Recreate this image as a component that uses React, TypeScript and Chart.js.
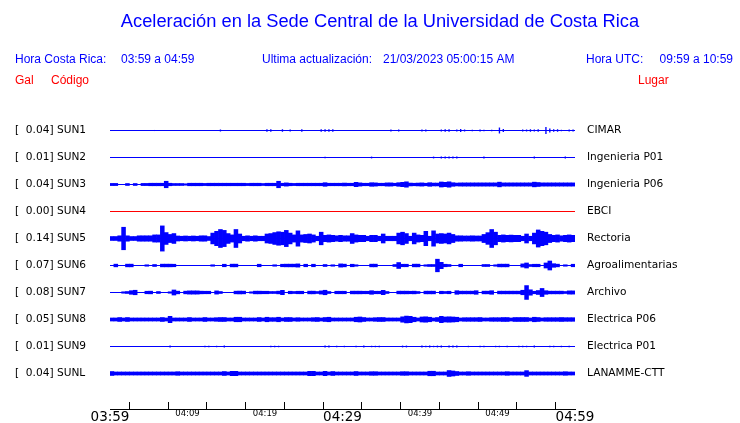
import React, { useEffect, useRef } from "react";
import { Chart, registerables } from "chart.js";

Chart.register(...registerables);

// ---------- data ----------
const TITLE = "Aceleración en la Sede Central de la Universidad de Costa Rica";
const HORA_CR = "03:59 a 04:59";
const UPDATED = "21/03/2023 05:00:15 AM";
const HORA_UTC = "09:59 a 10:59";

const CODES = ["SUN1", "SUN2", "SUN3", "SUN4", "SUN5", "SUN6", "SUN7", "SUN8", "SUN9", "SUNL"];
const PLACES = ["CIMAR", "Ingenieria P01", "Ingenieria P06", "EBCI", "Rectoria", "Agroalimentarias", "Archivo", "Electrica P06", "Electrica P01", "LANAMME-CTT"];
const PEAKS_GAL = [0.04, 0.01, 0.04, 0.0, 0.14, 0.07, 0.08, 0.05, 0.01, 0.04];

// time axis: minutes after 03:59, ticks every 5 minutes
const TICK_LABELS = ["03:59", "", "04:09", "", "04:19", "", "04:29", "", "04:39", "", "04:49", "", "04:59"];
const MAJOR_TICKS = ["03:59", "04:29", "04:59"];

// envelope (half amplitude, mGal) per half-minute bin, 120 bins = 60 min
const SUN1 = [
  0, 0, 0, 0, 0, 0, 0, 0, 0, 0, 0, 6, 0, 0, 0, 0, 0, 0, 0, 0,
  0, 0, 0, 0, 0, 0, 0, 0, 11, 0, 0, 0, 0, 0, 0, 0, 0, 0, 0, 0,
  14, 14, 0, 0, 14, 0, 12, 0, 0, 14, 0, 0, 0, 0, 14, 14, 14, 14, 0, 0,
  0, 0, 0, 0, 6, 0, 0, 0, 0, 0, 0, 0, 11, 0, 11, 0, 0, 0, 0, 0,
  12, 12, 0, 0, 0, 11, 14, 14, 0, 11, 16, 11, 0, 8, 0, 11, 8, 0, 8, 0,
  33, 16, 0, 0, 0, 0, 12, 11, 14, 11, 14, 0, 40, 22, 14, 14, 8, 0, 11, 11,
];
const SUN2 = [
  0, 0, 0, 0, 0, 0, 0, 0, 0, 0, 0, 0, 0, 0, 0, 0, 0, 0, 0, 0,
  0, 0, 0, 0, 0, 0, 0, 0, 0, 0, 0, 0, 0, 0, 0, 0, 0, 0, 0, 0,
  0, 0, 0, 0, 0, 0, 0, 0, 0, 0, 0, 0, 0, 0, 0, 8, 0, 0, 0, 0,
  0, 0, 0, 6, 0, 0, 0, 10, 0, 0, 0, 0, 0, 0, 0, 0, 0, 0, 0, 0,
  0, 0, 0, 10, 0, 10, 12, 10, 10, 10, 0, 0, 0, 0, 0, 0, 10, 0, 0, 0,
  0, 0, 0, 0, 0, 0, 0, 0, 0, 10, 0, 0, 0, 0, 0, 0, 0, 10, 0, 0,
];
const SUN3 = [
  12, 12, 0, 0, 11, 0, 11, 0, 12, 12, 14, 14, 14, 14, 36, 14, 11, 11, 11, 8,
  14, 14, 14, 14, 12, 14, 14, 14, 14, 14, 14, 14, 14, 14, 14, 12, 14, 14, 14, 11,
  14, 14, 14, 36, 14, 18, 14, 12, 14, 14, 14, 14, 14, 14, 14, 20, 14, 14, 14, 14,
  16, 14, 14, 24, 18, 14, 14, 20, 18, 14, 14, 18, 18, 14, 20, 24, 30, 16, 14, 16,
  18, 14, 20, 16, 16, 28, 24, 30, 20, 16, 18, 18, 18, 18, 18, 18, 18, 18, 18, 18,
  26, 18, 18, 18, 18, 18, 18, 18, 18, 26, 22, 18, 18, 18, 18, 18, 18, 18, 18, 18,
];
const SUN4: number[] = []; // sin datos
const SUN5 = [
  22, 22, 30, 125, 30, 22, 22, 30, 30, 30, 30, 40, 40, 140, 66, 45, 55, 28, 25, 28,
  25, 28, 25, 30, 30, 22, 60, 80, 100, 90, 55, 40, 100, 50, 25, 30, 25, 30, 25, 25,
  50, 55, 66, 75, 70, 90, 60, 40, 85, 40, 45, 50, 40, 25, 70, 35, 40, 35, 30, 35,
  30, 30, 55, 40, 35, 35, 25, 35, 35, 25, 50, 25, 25, 25, 60, 70, 55, 25, 60, 40,
  35, 80, 25, 85, 50, 55, 50, 60, 45, 30, 30, 28, 28, 30, 28, 28, 45, 65, 100, 70,
  35, 40, 35, 38, 35, 35, 25, 50, 25, 60, 95, 80, 70, 45, 35, 40, 30, 35, 40, 35,
];
const SUN6 = [
  0, 15, 0, 0, 15, 15, 0, 0, 0, 8, 0, 11, 0, 15, 15, 15, 14, 0, 0, 0,
  0, 0, 0, 0, 0, 0, 8, 0, 0, 14, 0, 15, 15, 0, 0, 0, 0, 0, 14, 0,
  0, 0, 8, 0, 14, 15, 15, 15, 18, 0, 14, 0, 14, 0, 0, 11, 0, 8, 0, 18,
  15, 0, 14, 8, 0, 0, 0, 15, 15, 0, 0, 0, 0, 11, 33, 14, 14, 0, 15, 15,
  0, 8, 11, 11, 70, 35, 14, 11, 0, 0, 14, 0, 0, 0, 0, 0, 11, 11, 0, 8,
  15, 15, 15, 0, 0, 0, 18, 28, 11, 14, 14, 0, 28, 50, 20, 15, 0, 8, 0, 14,
];
const SUN7 = [
  0, 0, 0, 8, 11, 20, 25, 0, 0, 14, 15, 0, 11, 0, 0, 8, 28, 15, 0, 15,
  18, 18, 18, 15, 14, 14, 0, 18, 11, 0, 0, 0, 15, 16, 15, 0, 8, 15, 15, 14,
  14, 11, 11, 15, 24, 0, 14, 11, 14, 14, 0, 15, 15, 11, 18, 25, 11, 0, 14, 14,
  14, 0, 15, 15, 15, 14, 14, 20, 14, 14, 24, 11, 0, 0, 15, 15, 15, 14, 15, 11,
  0, 15, 15, 15, 0, 14, 11, 14, 0, 20, 15, 15, 15, 15, 20, 0, 15, 15, 20, 0,
  15, 15, 15, 15, 15, 15, 25, 77, 30, 14, 22, 45, 20, 15, 15, 15, 15, 11, 18, 18,
];
const SUN8 = [
  17, 17, 22, 17, 22, 17, 17, 17, 17, 17, 17, 17, 17, 22, 17, 35, 17, 17, 17, 17,
  22, 17, 17, 17, 22, 17, 17, 20, 22, 22, 17, 17, 25, 25, 17, 17, 17, 17, 22, 17,
  25, 20, 20, 25, 17, 22, 22, 17, 20, 17, 17, 17, 20, 22, 17, 22, 25, 17, 17, 17,
  17, 17, 17, 25, 28, 22, 17, 17, 20, 22, 22, 17, 17, 17, 17, 30, 38, 35, 25, 17,
  28, 30, 25, 17, 22, 35, 28, 30, 28, 25, 17, 20, 20, 20, 20, 22, 17, 17, 20, 20,
  20, 22, 22, 17, 22, 22, 22, 22, 17, 25, 22, 17, 20, 20, 20, 20, 22, 20, 20, 20,
];
const SUN9 = [
  0, 0, 0, 0, 0, 0, 0, 0, 0, 0, 0, 0, 0, 0, 0, 11, 0, 0, 0, 0,
  0, 0, 0, 0, 8, 8, 0, 8, 0, 11, 0, 0, 0, 0, 0, 0, 0, 0, 0, 0,
  0, 8, 8, 8, 0, 0, 0, 0, 0, 0, 0, 0, 0, 0, 0, 10, 10, 0, 8, 0,
  8, 0, 0, 8, 0, 10, 0, 8, 8, 8, 0, 0, 0, 0, 0, 10, 10, 0, 0, 0,
  10, 8, 10, 8, 10, 10, 0, 10, 10, 10, 0, 0, 8, 0, 0, 8, 8, 0, 0, 8,
  8, 0, 8, 0, 0, 8, 8, 8, 0, 10, 0, 0, 0, 8, 8, 0, 8, 0, 8, 0,
];
const SUNL = [
  22, 17, 17, 17, 17, 17, 17, 17, 17, 17, 17, 17, 17, 17, 17, 17, 17, 20, 17, 17,
  17, 17, 17, 17, 17, 17, 17, 17, 17, 22, 17, 24, 24, 17, 17, 17, 17, 17, 17, 17,
  17, 17, 17, 17, 17, 17, 17, 17, 17, 17, 17, 24, 24, 17, 17, 24, 17, 22, 17, 17,
  17, 17, 17, 22, 17, 17, 17, 20, 20, 17, 17, 17, 17, 17, 17, 20, 20, 17, 17, 17,
  17, 17, 25, 25, 17, 17, 17, 33, 28, 22, 17, 17, 20, 17, 17, 17, 17, 17, 17, 17,
  17, 17, 20, 17, 17, 17, 17, 32, 17, 17, 17, 17, 17, 17, 17, 17, 17, 20, 17, 17,
];
const TRACES = [SUN1, SUN2, SUN3, SUN4, SUN5, SUN6, SUN7, SUN8, SUN9, SUNL];

// ---------- presentation ----------
const BLUE = "#0000ff";
const RED = "#ff0000";
const BIN_MIN = 0.5; // minutes per bin
const SPACING = 0.3; // Gal between trace baselines
const HALF_PX = 0.5 / 90; // half a pixel, in Gal, for crisp baselines
const Y_MIN = -SPACING - HALF_PX;
const Y_MAX = Y_MIN + 3.4;
// relative bar width per trace (isolated spikes drawn thinner)
const BAR_FILL = [0.35, 0.35, 1, 1, 1, 1, 1, 1, 0.35, 1];
const LABEL_FONT = { family: "'DejaVu Sans'", size: 10.6 };

const leftLabel = (k: number) => "[" + PEAKS_GAL[k].toFixed(2).padStart(6, " ") + "] " + CODES[k];
const tickLabel = (v: number) => TICK_LABELS[Math.round(v / 5)] ?? "";

const headerPlugin = {
  id: "header",
  afterDraw(chart: any) {
    const ctx = chart.ctx;
    ctx.save();
    ctx.textBaseline = "middle";
    ctx.fillStyle = BLUE;
    ctx.font = "18.3px 'Liberation Sans'";
    ctx.textAlign = "center";
    ctx.fillText(TITLE, 380, 22);
    ctx.font = "12px 'Liberation Sans'";
    ctx.textAlign = "left";
    ctx.fillText("Hora Costa Rica:", 15, 60);
    ctx.fillText(HORA_CR, 121, 60);
    ctx.fillText("Ultima actualización:", 262, 60);
    ctx.fillText(UPDATED, 383, 60);
    ctx.fillText("Hora UTC:", 586, 60);
    ctx.textAlign = "right";
    ctx.fillText(HORA_UTC, 733, 60);
    ctx.textAlign = "left";
    ctx.fillStyle = RED;
    ctx.fillText("Gal", 15, 81);
    ctx.fillText("Código", 51, 81);
    ctx.fillText("Lugar", 638, 81);
    ctx.restore();
  },
};

export default function App() {
  const ref = useRef<HTMLCanvasElement>(null);

  useEffect(() => {
    if (!ref.current) return;
    const datasets: any[] = [];
    TRACES.forEach((trace, k) => {
      const base = k * SPACING;
      const color = PEAKS_GAL[k] === 0 ? RED : BLUE;
      datasets.push({
        type: "line",
        data: [
          { x: 0, y: base },
          { x: 60, y: base },
        ],
        borderColor: color,
        borderWidth: 1,
        pointRadius: 0,
        yAxisID: "y",
        order: 2,
      });
      const bars = trace
        .map((a, i) => (a > 0 ? { x: (i + 0.5) * BIN_MIN, y: [base - a / 1000, base + a / 1000] } : null))
        .filter(Boolean);
      datasets.push({
        type: "bar",
        data: bars,
        backgroundColor: color,
        borderWidth: 0,
        grouped: false,
        barPercentage: BAR_FILL[k],
        categoryPercentage: 1,
        yAxisID: "y",
        order: 1,
      });
    });

    const noPad = (s: any) => {
      s.paddingTop = 0;
      s.paddingBottom = 0;
    };

    const chart = new Chart(ref.current, {
      type: "bar",
      data: { datasets },
      options: {
        animation: false,
        responsive: false,
        devicePixelRatio: 1,
        events: [],
        layout: { padding: { top: 103, left: 15, right: 0, bottom: 0 } },
        plugins: { legend: { display: false }, tooltip: { enabled: false }, title: { display: false } },
        scales: {
          x: {
            type: "linear",
            min: 0,
            max: 60,
            offset: false,
            grid: { drawOnChartArea: false, drawTicks: true, tickLength: -7, tickColor: "#000", color: "#000", lineWidth: 1 },
            border: { display: true, color: "#000", width: 1 },
            ticks: {
              stepSize: 5,
              autoSkip: false,
              maxRotation: 0,
              padding: 7,
              color: "#000",
              font: (c: any) => {
                const lbl = c && c.tick ? tickLabel(c.tick.value) : "";
                return MAJOR_TICKS.includes(lbl)
                  ? { family: "'DejaVu Sans'", size: 13.5 }
                  : { family: "'DejaVu Sans'", size: 8.5 };
              },
              callback: (v: any) => tickLabel(Number(v)),
            },
            afterFit: (s: any) => {
              s.height = 14;
            },
          },
          y: {
            type: "linear",
            position: "left",
            reverse: true,
            min: Y_MIN,
            max: Y_MAX,
            grid: { display: false, drawTicks: false },
            border: { display: false },
            afterBuildTicks: (s: any) => {
              s.ticks = CODES.map((_, k) => ({ value: k * SPACING }));
            },
            ticks: {
              crossAlign: "far",
              padding: 0,
              color: "#000",
              font: LABEL_FONT,
              callback: (_v: any, i: number) => leftLabel(i),
            },
            afterFit: (s: any) => {
              s.width = 95;
              noPad(s);
            },
          },
          y2: {
            type: "linear",
            position: "right",
            reverse: true,
            min: Y_MIN,
            max: Y_MAX,
            grid: { display: false, drawTicks: false },
            border: { display: false },
            afterBuildTicks: (s: any) => {
              s.ticks = PLACES.map((_, k) => ({ value: k * SPACING }));
            },
            ticks: {
              padding: 12,
              color: "#000",
              font: LABEL_FONT,
              callback: (_v: any, i: number) => PLACES[i],
            },
            afterFit: (s: any) => {
              s.width = 165;
              noPad(s);
            },
          },
        },
      } as any,
      plugins: [headerPlugin],
    });
    return () => chart.destroy();
  }, []);

  return (
    <div style={{ position: "fixed", left: 0, top: 0, width: 740, height: 423, background: "#fff" }}>
      <canvas ref={ref} width={740} height={423} style={{ display: "block" }} />
    </div>
  );
}
